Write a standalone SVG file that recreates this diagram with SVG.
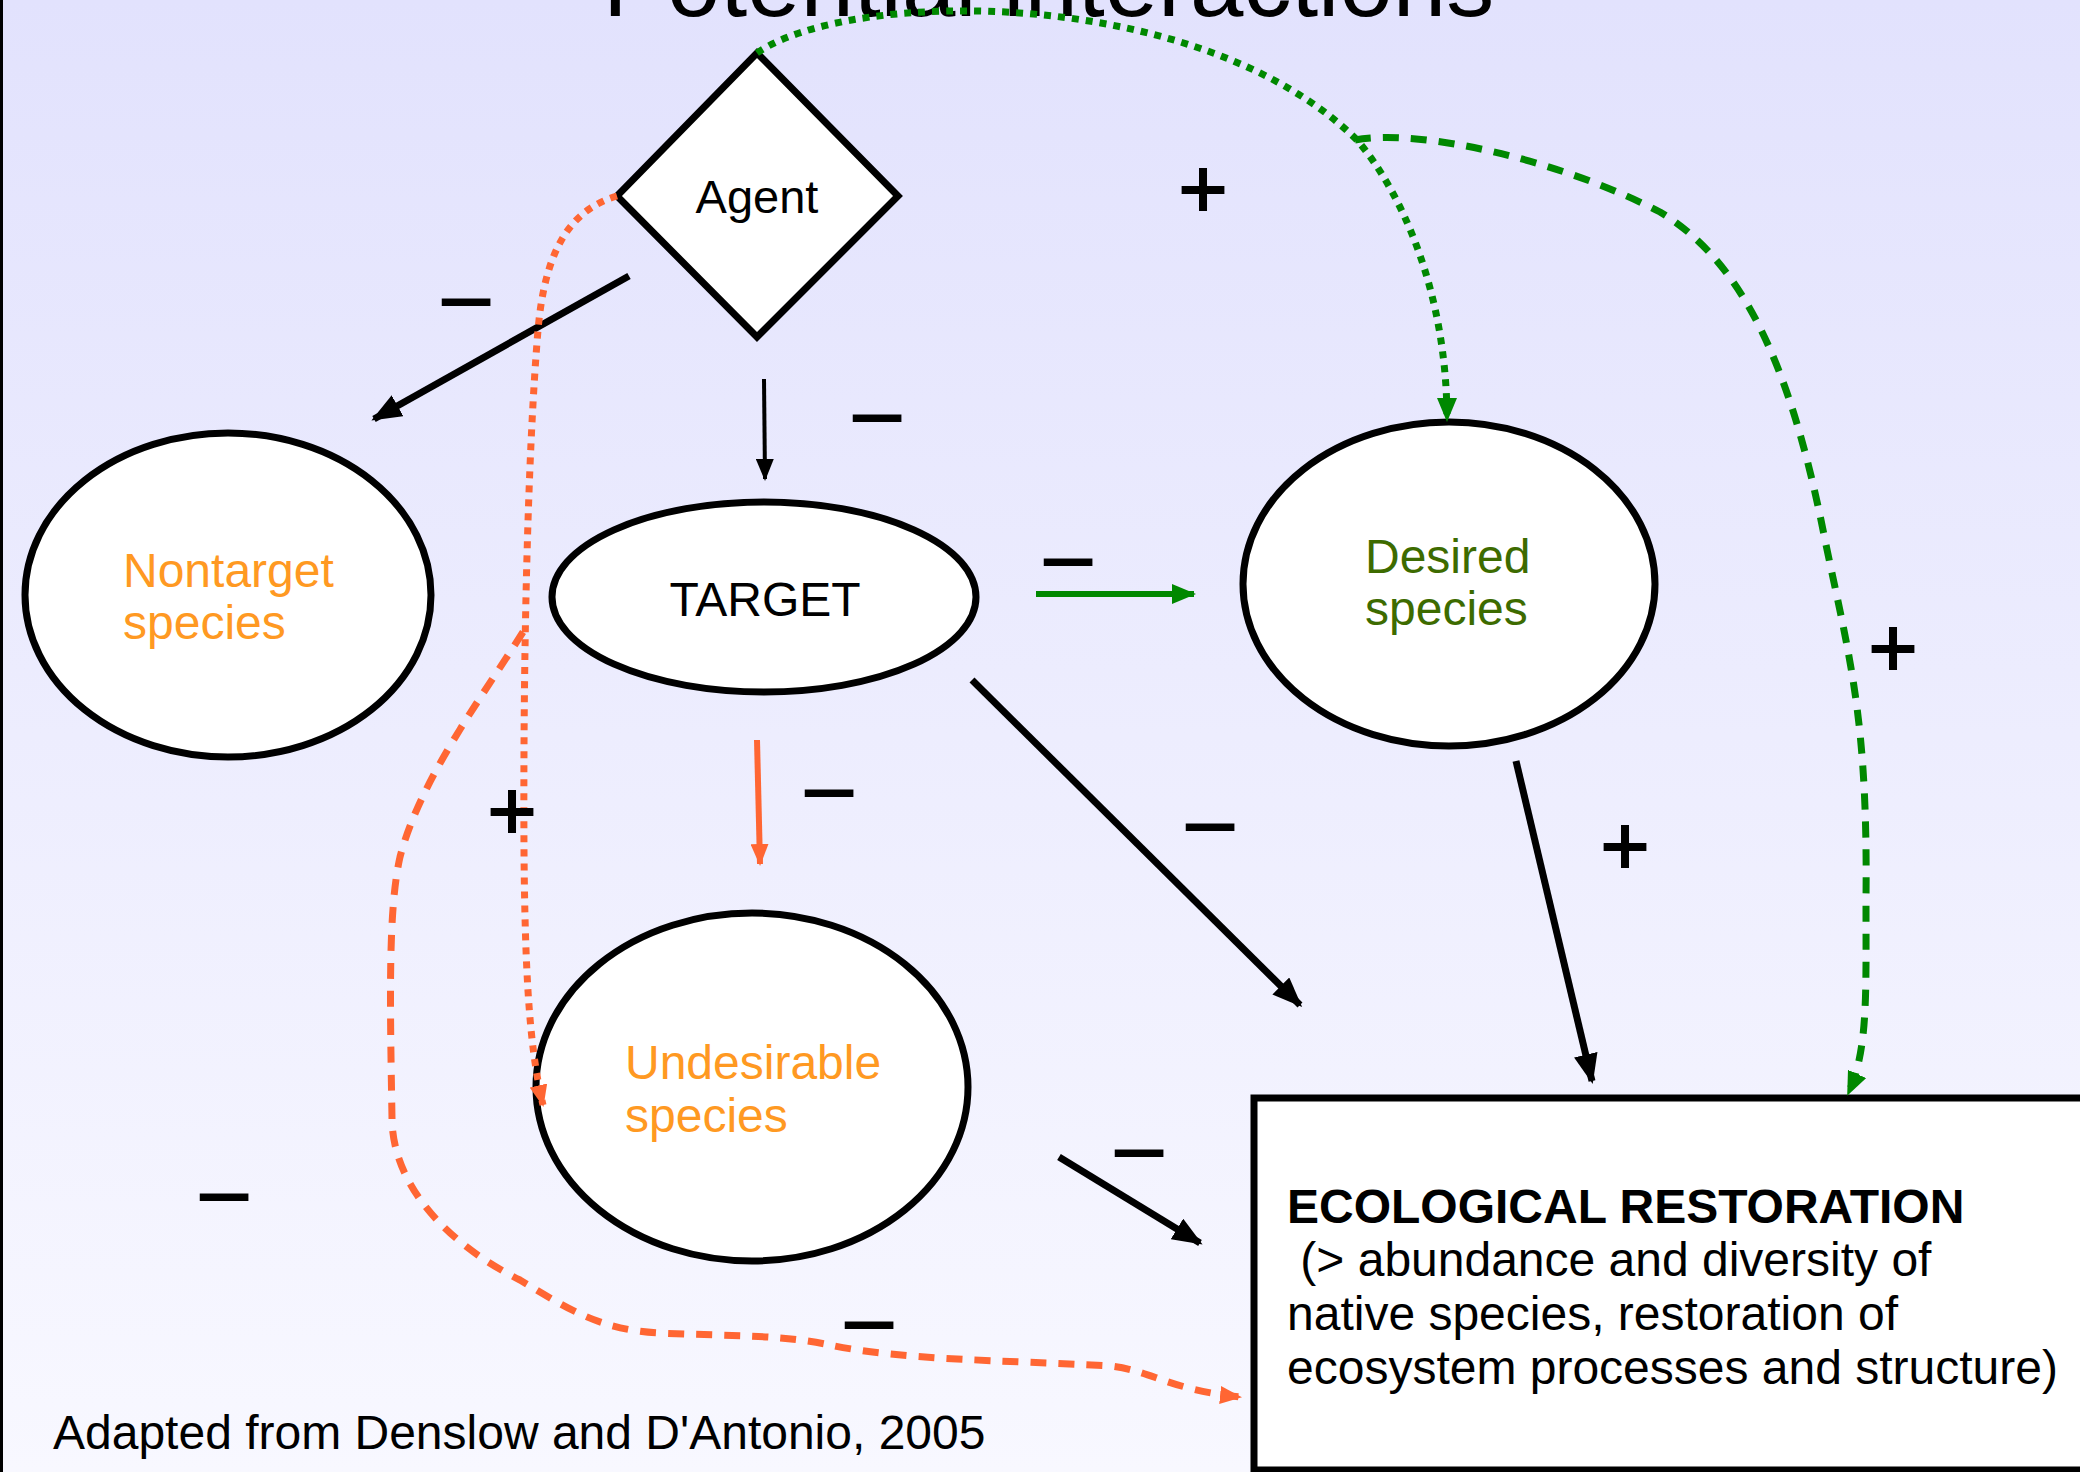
<svg xmlns="http://www.w3.org/2000/svg" width="2080" height="1472" viewBox="0 0 2080 1472">
<defs>
<linearGradient id="bg" x1="0" y1="0" x2="0" y2="1">
<stop offset="0" stop-color="#E2E2FD"/>
<stop offset="1" stop-color="#F8F8FF"/>
</linearGradient>
<marker id="mBlack" markerUnits="userSpaceOnUse" viewBox="0 0 30 24" markerWidth="30" markerHeight="24" refX="27" refY="12" orient="auto"><path d="M0,0 L30,12 L0,24 z" fill="#000"/></marker>
<marker id="mBlackS" markerUnits="userSpaceOnUse" viewBox="0 0 22 18" markerWidth="22" markerHeight="18" refX="20" refY="9" orient="auto"><path d="M0,0 L22,9 L0,18 z" fill="#000"/></marker>
<marker id="mGreen" markerUnits="userSpaceOnUse" viewBox="0 0 24 20" markerWidth="24" markerHeight="20" refX="22" refY="10" orient="auto"><path d="M0,0 L24,10 L0,20 z" fill="#008800"/></marker>
<marker id="mOrange" markerUnits="userSpaceOnUse" viewBox="0 0 22 18" markerWidth="22" markerHeight="18" refX="20" refY="9" orient="auto"><path d="M0,0 L22,9 L0,18 z" fill="#FF6633"/></marker>
</defs>
<style>
.node{fill:#fff;stroke:#000;stroke-width:7}
.lbl{font-family:"Liberation Sans",Arial,sans-serif;font-size:48px}
.sign{font-family:"Liberation Sans",Arial,sans-serif;font-size:84px;fill:#000;stroke:#000;stroke-width:2;text-anchor:middle}
.orange{fill:#FF9922}
.green{fill:#3D6B00}
.arr{fill:none;stroke-width:7}
.blk{stroke:#000}
.dotG{fill:none;stroke:#008800;stroke-width:7;stroke-dasharray:7 7}
.dashG{fill:none;stroke:#008800;stroke-width:7;stroke-dasharray:16 12}
.dotO{fill:none;stroke:#FF6633;stroke-width:7;stroke-dasharray:7 7}
.dashO{fill:none;stroke:#FF6633;stroke-width:7;stroke-dasharray:16 12}
</style>
<rect x="0" y="0" width="2080" height="1472" fill="url(#bg)"/>
<rect x="0" y="0" width="3" height="1472" fill="#000"/>
<text class="lbl" x="603" y="16" style="font-size:96px">Potential interactions</text>

<g id="node-restoration">
<rect class="node" x="1254" y="1098" width="900" height="372"/>
<text class="lbl" x="1287" y="1223" font-weight="bold">ECOLOGICAL RESTORATION</text>
<text class="lbl" x="1287" y="1276" xml:space="preserve"> (&gt; abundance and diversity of</text>
<text class="lbl" x="1287" y="1330">native species, restoration of</text>
<text class="lbl" x="1287" y="1384">ecosystem processes and structure)</text>
</g>

<g id="node-agent">
<polygon class="node" points="757,53 898,196 757,337 617,196"/>
<text class="lbl" x="757" y="213" text-anchor="middle" style="font-size:47px">Agent</text>
</g>

<g id="node-nontarget">
<ellipse class="node" cx="228" cy="595" rx="203" ry="162"/>
<text class="lbl orange" x="123" y="587">Nontarget</text>
<text class="lbl orange" x="123" y="639">species</text>
</g>

<g id="node-target">
<ellipse class="node" cx="764" cy="597" rx="212" ry="95"/>
<text class="lbl" x="765" y="616" text-anchor="middle">TARGET</text>
</g>

<g id="node-desired">
<ellipse class="node" cx="1449" cy="584" rx="206" ry="162"/>
<text class="lbl green" x="1365" y="573">Desired</text>
<text class="lbl green" x="1365" y="625">species</text>
</g>

<g id="node-undesirable">
<ellipse class="node" cx="752" cy="1087" rx="216" ry="174"/>
<text class="lbl orange" x="625" y="1079">Undesirable</text>
<text class="lbl orange" x="625" y="1132">species</text>
</g>

<g id="connectors">
<path class="arr blk" d="M629,276 L374,419" marker-end="url(#mBlack)"/>
<path class="arr blk" d="M764,379 L765,479" style="stroke-width:4" marker-end="url(#mBlackS)"/>
<path class="arr" d="M1036,594 L1194,594" style="stroke:#008800;stroke-width:6" marker-end="url(#mGreen)"/>
<path class="arr" d="M757,740 L760,864" style="stroke:#FF6633;stroke-width:6" marker-end="url(#mOrange)"/>
<path class="arr blk" d="M972,680 L1300,1005" marker-end="url(#mBlack)"/>
<path class="arr blk" d="M1516,761 L1592,1081" marker-end="url(#mBlack)"/>
<path class="arr blk" d="M1059,1157 L1200,1243" marker-end="url(#mBlack)"/>
<path class="dotG" d="M757,53 C850,-12 1200,-15 1357,140 C1400,190 1447,290 1447,420" marker-end="url(#mGreen)"/>
<path class="dashG" d="M1355,140 C1420,128 1560,160 1660,212 C1740,260 1790,360 1825,540 C1850,660 1868,720 1866,900 C1866,1000 1868,1050 1848,1094" marker-end="url(#mGreen)"/>
<path class="dotO" d="M617,196 C570,210 545,250 538,330 C528,450 523,650 524,850 C525,980 530,1050 543,1105" marker-end="url(#mOrange)"/>
<path class="dashO" d="M523,632 C480,700 420,780 400,857 C388,910 390,1000 392,1118 C392,1180 440,1240 520,1280 C570,1310 600,1330 660,1333 C720,1336 780,1334 830,1345 C900,1360 1000,1360 1110,1366 C1150,1370 1170,1390 1240,1397" marker-end="url(#mOrange)"/>
</g>

<g id="signs">
<text class="sign" x="466" y="323">–</text>
<text class="sign" x="877" y="439">–</text>
<text class="sign" x="1203" y="217">+</text>
<text class="sign" x="1068" y="583">–</text>
<text class="sign" x="1893" y="676">+</text>
<text class="sign" x="829" y="814">–</text>
<text class="sign" x="1210" y="848">–</text>
<text class="sign" x="1625" y="874">+</text>
<text class="sign" x="512" y="839">+</text>
<text class="sign" x="1139" y="1174">–</text>
<text class="sign" x="224" y="1218">–</text>
<text class="sign" x="869" y="1346">–</text>
</g>

<text class="lbl" x="53" y="1449">Adapted from Denslow and D'Antonio, 2005</text>
</svg>
